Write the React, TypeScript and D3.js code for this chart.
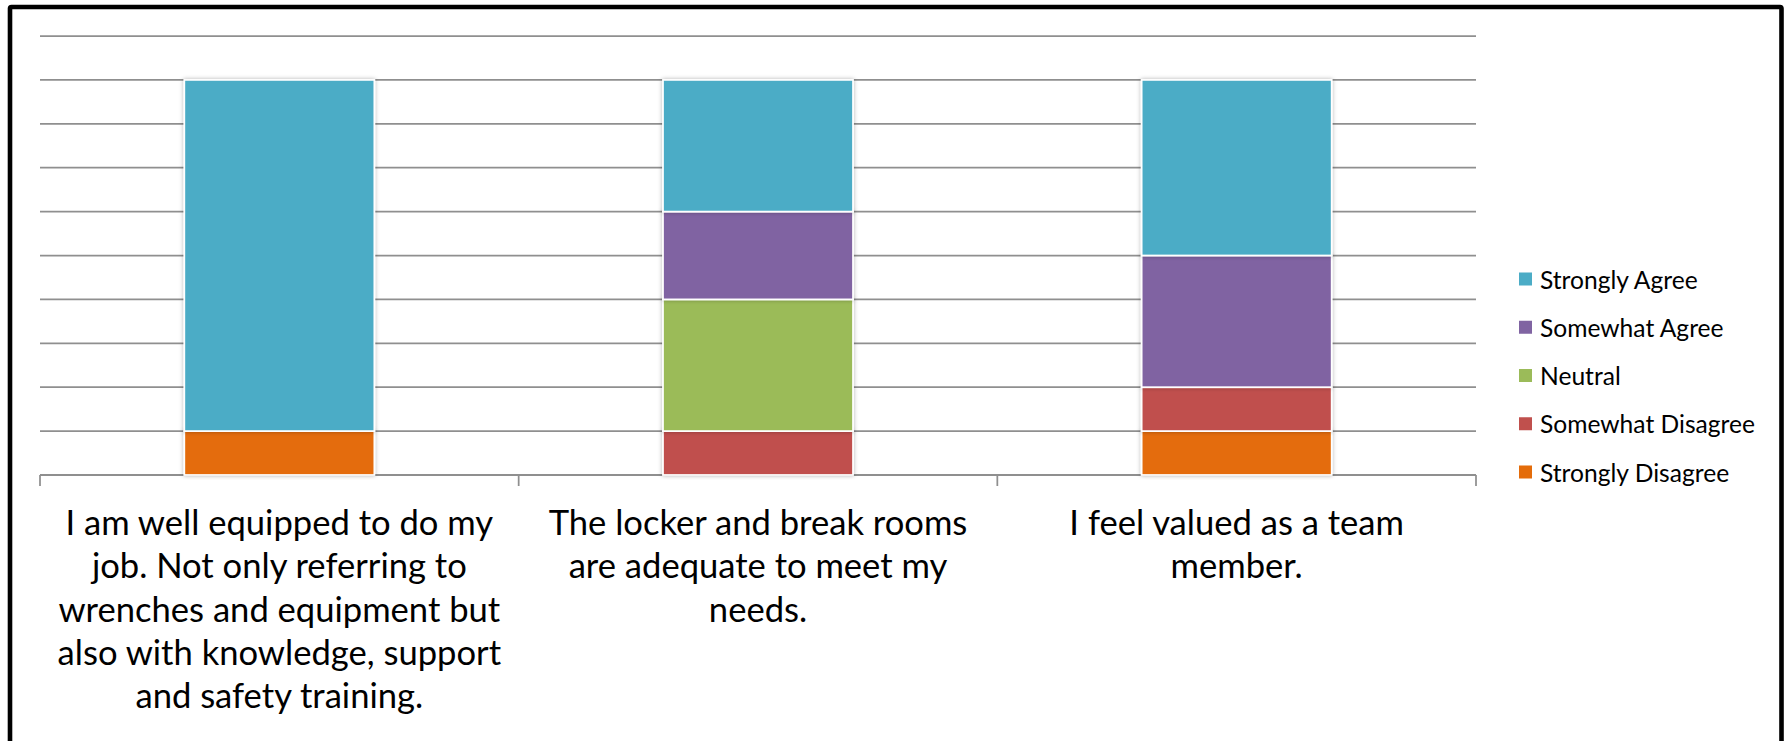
import React from "react";
import * as d3 from "d3";

const categories = ["Q1", "Q2", "Q3"];
const categoryLabelLines: string[][] = [
  ["I am well equipped to do my", "job. Not only referring to", "wrenches and equipment but", "also with knowledge, support", "and safety training."],
  ["The locker and break rooms", "are adequate to meet my", "needs."],
  ["I feel valued as a team", "member."],
];
const seriesNames = ["Strongly Disagree", "Somewhat Disagree", "Neutral", "Somewhat Agree", "Strongly Agree"];
const seriesColors = ["#E46C0A", "#C0504D", "#9BBB59", "#8064A2", "#4BACC6"];
const stronglyDisagree = [1, 0, 1];
const somewhatDisagree = [0, 1, 1];
const neutral = [0, 3, 0];
const somewhatAgree = [0, 2, 3];
const stronglyAgree = [8, 3, 4];
const yTicks = [0, 1, 2, 3, 4, 5, 6, 7, 8, 9, 10];

const W = 1791;
const H = 741;
const FONT = "Lato, 'Open Sans', sans-serif";

export default function App() {
  const seriesValues = [stronglyDisagree, somewhatDisagree, neutral, somewhatAgree, stronglyAgree];
  const rows = categories.map((c, i) => {
    const r: any = { cat: c };
    seriesNames.forEach((s, j) => (r[s] = seriesValues[j][i]));
    return r;
  });
  const stack = d3.stack<any>().keys(seriesNames)(rows);

  const x = d3.scaleBand<string>().domain(categories).range([40, 1476]).padding(0);
  const y = d3.scaleLinear().domain([0, 10]).range([475, 36]);
  const barW = x.bandwidth() * 0.397;

  const legendY = d3.scalePoint<string>().domain([...seriesNames].reverse()).range([279, 472]);

  return (
    <svg
      width={W}
      height={H}
      style={{ display: "block", position: "absolute", left: 0, top: 0 }}
      fontFamily={FONT}
    >
      <defs>
        <filter id="sh" x="-10%" y="-10%" width="120%" height="120%">
          <feDropShadow dx="0" dy="0" stdDeviation="2" floodColor="#000" floodOpacity="0.3" />
        </filter>
      </defs>
      <rect x={0} y={0} width={W} height={H} fill="#fff" />
      <rect x={10} y={7} width={1771.5} height={760} fill="none" stroke="#000" strokeWidth={4.6} rx={1.5} />
      {yTicks.map((t) => (
        <line key={t} x1={40} x2={1476} y1={y(t)} y2={y(t)} stroke="#8f8f8f" strokeWidth={t === 0 ? 2 : 1.75} />
      ))}
      {[...categories.map((c) => x(c)!), 1476].map((tx, i) => (
        <line key={i} x1={tx} x2={tx} y1={y(0)} y2={y(0) + 11} stroke="#8f8f8f" strokeWidth={1.75} />
      ))}
      {stack.map((s, si) => (
        <g key={s.key} fill={seriesColors[si]}>
          {s.map((d, i) =>
            d[1] - d[0] > 0 ? (
              <rect
                key={i}
                x={x(categories[i])! + (x.bandwidth() - barW) / 2}
                y={y(d[1])}
                width={barW}
                height={y(d[0]) - y(d[1])}
                stroke="#fff"
                strokeWidth={1.75}
                filter="url(#sh)"
              />
            ) : null
          )}
        </g>
      ))}
      {categoryLabelLines.map((lines, i) => (
        <text key={i} x={x(categories[i])! + x.bandwidth() / 2} y={535} textAnchor="middle" fontSize={34.6} fill="#000">
          {lines.map((l, k) => (
            <tspan key={k} x={x(categories[i])! + x.bandwidth() / 2} dy={k === 0 ? 0 : 43.3}>
              {l}
            </tspan>
          ))}
        </text>
      ))}
      {[...seriesNames].reverse().map((s) => {
        const si = seriesNames.indexOf(s);
        const cy = legendY(s)!;
        return (
          <g key={s}>
            <rect x={1519} y={cy - 6.5} width={13} height={13} fill={seriesColors[si]} />
            <text x={1540} y={cy} dominantBaseline="central" fontSize={24.6} fill="#000">
              {s}
            </text>
          </g>
        );
      })}
    </svg>
  );
}
